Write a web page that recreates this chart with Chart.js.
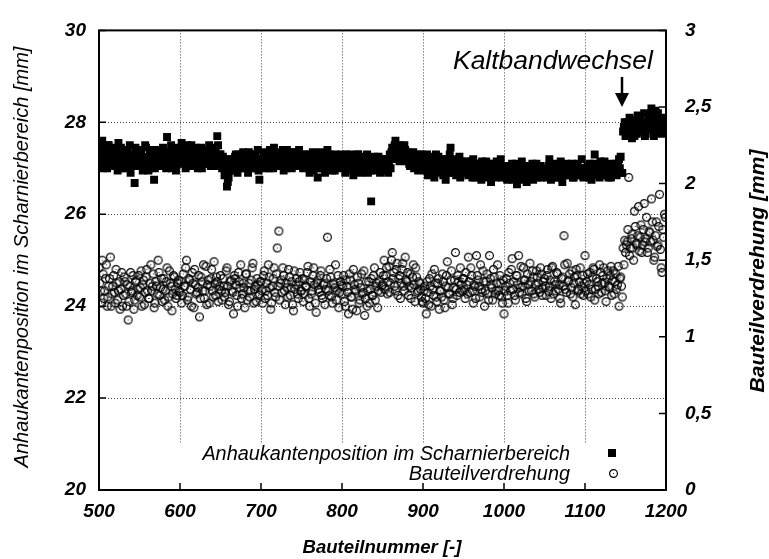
<!DOCTYPE html>
<html>
<head>
<meta charset="utf-8">
<script src="https://cdn.jsdelivr.net/npm/chart.js@4.4.0/dist/chart.umd.min.js"></script>
<style>
  html, body { margin: 0; padding: 0; background: #fff; }
  #wrap { width: 769px; height: 559px; position: relative; }
</style>
</head>
<body>
<div id="wrap"><canvas id="chart"></canvas></div>
<script>
// even part numbers start at 500, odd ones at 501, step 2
const START_EVEN = 500;
const START_ODD = 501;
const PART_STEP = 2;

// Anhaukantenposition im Scharnierbereich [mm] (left axis), even parts
const scharnierPos = [
  27.3, 27.1, 27.6, 27.2, 27.4, 27.0, 27.5, 27.3, 27.2, 27.45, 27.1, 27.35, 27.55, 27.2, 27.0, 27.3, 27.4, 27.15, 27.25, 27.5, 27.05, 27.3, 26.68, 27.2, 27.4,
  27.1, 27.3, 26.95, 27.25, 27.45, 27.15, 27.0, 27.35, 27.2, 26.75, 27.3, 27.1, 27.4, 27.2, 27.05, 27.3, 27.25, 27.68, 27.15, 27.35, 27.0, 27.2, 27.45, 27.1, 27.3,
  27.25, 27.55, 27.1, 27.4, 27.2, 27.3, 27.05, 27.5, 27.25, 27.15, 27.35, 27.0, 27.3, 27.45, 27.2, 27.1, 27.35, 27.25, 27.5, 27.05, 27.3, 27.2, 27.4, 27.7, 27.15,
  27.3, 27.0, 27.2, 26.9, 26.6, 26.8, 27.1, 27.2, 26.95, 27.25, 27.1, 27.3, 27.0, 27.15, 27.35, 27.05, 27.2, 26.9, 27.25, 27.1, 27.3, 27.0, 27.2, 27.4, 26.75,
  27.2, 27.05, 27.35, 27.15, 27.25, 27.0, 27.3, 27.1, 27.45, 27.2, 27.05, 27.3, 27.15, 27.25, 26.95, 27.2, 27.4, 27.1, 27.3, 27.0, 27.2, 27.35, 27.1, 27.25, 27.05,
  27.2, 27.0, 27.3, 27.1, 27.25, 26.9, 27.15, 27.35, 27.05, 27.2, 26.8, 27.1, 27.3, 27.0, 27.2, 27.1, 27.4, 27.05, 27.25, 26.95, 27.15, 27.3, 27.0, 27.2, 27.1,
  27.05, 27.25, 26.9, 27.15, 27.0, 27.3, 27.1, 26.85, 27.2, 27.05, 27.3, 26.95, 27.15, 27.0, 27.25, 27.1, 26.9, 27.2, 26.28, 27.05, 27.25, 26.95, 27.1, 27.0, 27.2,
  27.1, 26.95, 27.2, 27.05, 27.15, 27.0, 27.45, 27.3, 27.6, 27.4, 27.25, 27.5, 27.35, 27.2, 27.4, 27.15, 27.3, 27.05, 27.25, 27.35, 27.1, 27.2, 26.95, 27.15, 27.3,
  27.0, 27.2, 27.1, 26.85, 27.25, 27.05, 27.15, 26.8, 27.3, 27.0, 27.1, 26.9, 27.2, 27.05, 26.75, 27.15, 27.0, 27.45, 27.1, 26.9, 27.2, 26.95, 27.05, 26.8, 27.15,
  27.0, 26.9, 27.15, 26.85, 27.05, 26.95, 27.2, 26.8, 27.0, 27.1, 26.9, 26.75, 27.05, 26.95, 27.15, 26.85, 27.0, 26.7, 26.95, 27.1, 26.8, 27.0, 26.9, 27.2, 26.85,
  26.9, 27.05, 26.75, 26.95, 26.85, 27.1, 26.8, 26.95, 26.65, 27.0, 26.9, 27.15, 26.8, 26.95, 26.7, 27.05, 26.85, 27.0, 26.75, 26.9, 27.1, 26.85, 27.0, 26.8, 26.95,
  26.85, 27.0, 26.9, 27.2, 26.75, 26.95, 27.05, 26.8, 27.0, 26.9, 27.15, 26.7, 26.95, 27.05, 26.85, 27.0, 26.9, 27.1, 26.8, 26.95, 27.05, 26.85, 26.95, 27.2, 26.8,
  27.0, 26.85, 26.95, 27.1, 26.75, 26.95, 27.3, 26.9, 27.0, 26.8, 27.05, 26.9, 27.15, 26.85, 27.0, 26.95, 26.8, 27.05, 26.95, 27.1, 26.9, 27.2, 27.25, 26.9, 27.9,
  27.7, 28.0, 27.8, 27.95, 27.65, 27.85, 28.05, 27.75, 27.9, 28.1, 27.8, 27.95, 27.7, 28.0, 28.15, 27.85, 28.3, 27.9, 28.05, 27.8, 28.2, 27.95, 27.75, 28.0, 27.85
];

// same, odd parts
const scharnierPosOdd = [
  27.2, 27.45, 27.0, 27.35, 27.15, 27.5, 27.25, 27.05, 27.4, 27.2, 27.3, 26.95, 27.25, 27.45, 27.1, 27.2, 27.0, 27.35, 27.3, 26.9, 27.25, 27.15, 27.45, 27.05, 27.2,
  27.35, 27.05, 27.2, 27.5, 27.1, 26.95, 27.3, 27.15, 27.4, 27.0, 27.25, 27.35, 27.05, 27.2, 27.45, 27.15, 27.0, 27.3, 27.2, 27.5, 27.1, 27.3, 26.95, 27.25, 27.15,
  27.4, 27.15, 27.3, 27.0, 27.5, 27.2, 27.35, 27.1, 27.25, 27.45, 27.05, 27.3, 27.2, 27.0, 27.4, 27.3, 27.1, 27.2, 27.35, 27.15, 27.45, 27.05, 27.25, 27.5, 27.3,
  27.1, 27.25, 26.85, 27.05, 26.7, 26.95, 27.2, 27.0, 27.15, 27.3, 26.9, 27.2, 27.1, 27.3, 27.0, 27.25, 27.1, 27.35, 27.0, 27.2, 27.05, 27.3, 27.1, 26.95, 27.2,
  27.1, 27.3, 27.0, 27.25, 27.1, 27.4, 27.2, 27.0, 27.3, 27.15, 27.35, 27.05, 27.2, 27.4, 27.1, 27.0, 27.25, 27.3, 27.15, 27.35, 27.05, 27.2, 27.1, 27.4, 27.2,
  27.1, 27.3, 27.05, 27.2, 27.0, 27.3, 27.1, 26.95, 27.25, 27.15, 27.0, 27.35, 27.1, 27.25, 26.9, 27.2, 27.05, 27.3, 27.1, 27.2, 26.95, 27.15, 27.25, 27.05, 27.3,
  27.15, 27.0, 27.3, 27.05, 27.2, 26.95, 27.25, 27.1, 27.0, 27.3, 27.15, 26.9, 27.2, 27.1, 27.05, 27.3, 27.15, 26.95, 27.1, 27.2, 27.0, 27.15, 27.25, 26.9, 27.05,
  27.0, 27.2, 27.1, 26.9, 27.3, 27.35, 27.2, 27.5, 27.3, 27.45, 27.15, 27.35, 27.25, 27.5, 27.2, 27.35, 27.1, 27.3, 27.2, 27.0, 27.25, 27.1, 27.3, 27.05, 27.2,
  27.15, 26.95, 27.3, 27.05, 26.9, 27.2, 27.0, 27.1, 26.95, 27.25, 27.0, 27.15, 26.85, 27.1, 27.2, 26.9, 27.3, 27.05, 27.15, 27.0, 26.85, 27.1, 27.25, 27.0, 26.9,
  27.1, 26.95, 27.05, 26.9, 27.15, 26.8, 27.0, 27.1, 26.9, 27.05, 26.85, 27.15, 26.9, 27.0, 26.8, 27.1, 26.95, 27.05, 26.85, 27.0, 27.15, 26.9, 27.05, 26.8, 27.0,
  26.95, 26.8, 27.0, 26.9, 27.05, 26.75, 26.95, 27.1, 26.85, 26.95, 26.75, 27.0, 26.9, 27.05, 26.85, 26.95, 26.8, 27.1, 26.9, 27.0, 26.8, 26.95, 27.05, 26.9, 26.85,
  26.95, 26.8, 27.05, 26.9, 27.0, 26.85, 27.1, 26.9, 26.8, 27.05, 26.95, 27.0, 26.85, 27.1, 26.9, 26.95, 27.05, 26.8, 27.0, 26.9, 27.1, 26.95, 26.85, 27.0, 26.95,
  26.9, 27.05, 26.8, 27.0, 26.9, 27.1, 26.85, 27.0, 26.95, 27.15, 26.85, 27.0, 26.9, 27.05, 26.8, 27.1, 26.95, 26.9, 27.05, 26.85, 27.1, 27.0, 26.9, 27.8, 28.0,
  27.9, 27.75, 28.1, 27.85, 28.0, 27.7, 27.95, 28.15, 27.8, 28.0, 27.9, 28.2, 27.75, 27.95, 28.05, 27.85, 28.1, 27.7, 28.25, 27.9, 28.0, 27.8, 28.1, 27.95, 27.9
];

// Bauteilverdrehung [mm] (right axis), even parts
const verdrehung = [
  1.45, 1.3, 1.5, 1.25, 1.38, 1.2, 1.33, 1.52, 1.28, 1.4, 1.22, 1.35, 1.3, 1.18, 1.42, 1.27, 1.36, 1.2, 1.11, 1.33, 1.29, 1.4, 1.24, 1.37, 1.31,
  1.26, 1.43, 1.34, 1.21, 1.39, 1.3, 1.25, 1.47, 1.33, 1.19, 1.36, 1.28, 1.42, 1.32, 1.23, 1.38, 1.3, 1.45, 1.26, 1.35, 1.17, 1.4, 1.31, 1.27, 1.37,
  1.29, 1.22, 1.41, 1.33, 1.5, 1.26, 1.37, 1.2, 1.35, 1.44, 1.28, 1.32, 1.13, 1.39, 1.3, 1.25, 1.46, 1.34, 1.22, 1.38, 1.3, 1.49, 1.27, 1.36, 1.31,
  1.4, 1.24, 1.33, 1.29, 1.45, 1.21, 1.36, 1.3, 1.15, 1.38, 1.27, 1.42, 1.32, 1.25, 1.35, 1.19, 1.41, 1.3, 1.26, 1.37, 1.48, 1.31, 1.23, 1.34, 1.28,
  1.36, 1.22, 1.43, 1.3, 1.27, 1.39, 1.18, 1.33, 1.45, 1.26, 1.58, 1.69, 1.35, 1.29, 1.4, 1.21, 1.32, 1.44, 1.27, 1.36, 1.17, 1.31, 1.38, 1.25, 1.42,
  1.3, 1.23, 1.37, 1.33, 1.46, 1.2, 1.28, 1.4, 1.34, 1.16, 1.37, 1.29, 1.43, 1.25, 1.35, 1.31, 1.65, 1.27, 1.39, 1.22, 1.34, 1.47, 1.3, 1.19, 1.36,
  1.28, 1.4, 1.2, 1.33, 1.15, 1.37, 1.26, 1.44, 1.31, 1.17, 1.35, 1.24, 1.41, 1.29, 1.14, 1.36, 1.3, 1.22, 1.38, 1.27, 1.45, 1.33, 1.19, 1.36, 1.29,
  1.34, 1.5, 1.4, 1.28, 1.46, 1.35, 1.55, 1.42, 1.3, 1.48, 1.38, 1.25, 1.44, 1.33, 1.52, 1.36, 1.27, 1.41, 1.32, 1.47, 1.23, 1.39, 1.3, 1.35, 1.26,
  1.22, 1.33, 1.15, 1.29, 1.38, 1.2, 1.31, 1.44, 1.26, 1.35, 1.18, 1.3, 1.41, 1.24, 1.33, 1.49, 1.28, 1.37, 1.21, 1.32, 1.55, 1.27, 1.36, 1.45, 1.3,
  1.38, 1.25, 1.34, 1.52, 1.29, 1.4, 1.22, 1.33, 1.53, 1.37, 1.26, 1.31, 1.43, 1.2, 1.36, 1.28, 1.53, 1.34, 1.24, 1.39, 1.3, 1.47, 1.27, 1.35, 1.22,
  1.15, 1.33, 1.27, 1.42, 1.3, 1.51, 1.36, 1.24, 1.4, 1.53, 1.32, 1.28, 1.45, 1.37, 1.23, 1.34, 1.48, 1.3, 1.39, 1.26, 1.43, 1.35, 1.29, 1.41, 1.32,
  1.38, 1.27, 1.44, 1.33, 1.25, 1.46, 1.36, 1.3, 1.41, 1.34, 1.22, 1.39, 1.66, 1.31, 1.48, 1.37, 1.28, 1.43, 1.35, 1.21, 1.4, 1.3, 1.45, 1.33, 1.27,
  1.53, 1.36, 1.28, 1.42, 1.31, 1.45, 1.24, 1.38, 1.33, 1.47, 1.29, 1.4, 1.35, 1.23, 1.43, 1.32, 1.46, 1.37, 1.28, 1.41, 1.34, 1.2, 1.39, 1.26, 1.47,
  1.55, 1.62, 2.04, 1.58, 1.67, 1.5, 1.72, 1.6, 1.85, 1.65, 1.55, 1.7, 1.62, 1.78, 1.58, 1.68, 1.9, 1.63, 1.52, 1.75, 1.6, 1.93, 1.45, 1.7, 1.8
];

// same, odd parts
const verdrehungOdd = [
  1.35, 1.22, 1.41, 1.3, 1.47, 1.26, 1.38, 1.2, 1.33, 1.29, 1.44, 1.24, 1.36, 1.31, 1.2, 1.39, 1.28, 1.34, 1.23, 1.42, 1.3, 1.18, 1.36, 1.27, 1.4,
  1.32, 1.2, 1.37, 1.29, 1.44, 1.25, 1.35, 1.3, 1.41, 1.22, 1.33, 1.5, 1.27, 1.38, 1.31, 1.24, 1.36, 1.2, 1.43, 1.33, 1.28, 1.39, 1.25, 1.35, 1.3,
  1.36, 1.27, 1.33, 1.45, 1.24, 1.38, 1.31, 1.42, 1.19, 1.34, 1.29, 1.4, 1.25, 1.36, 1.47, 1.3, 1.21, 1.37, 1.33, 1.44, 1.26, 1.35, 1.39, 1.23, 1.33,
  1.3, 1.38, 1.26, 1.43, 1.33, 1.23, 1.37, 1.29, 1.4, 1.34, 1.2, 1.36, 1.47, 1.28, 1.32, 1.41, 1.24, 1.35, 1.3, 1.45, 1.22, 1.33, 1.38, 1.27, 1.36,
  1.3, 1.4, 1.25, 1.35, 1.47, 1.32, 1.22, 1.38, 1.29, 1.41, 1.33, 1.24, 1.37, 1.45, 1.3, 1.35, 1.26, 1.39, 1.32, 1.21, 1.43, 1.34, 1.28, 1.36, 1.3,
  1.38, 1.28, 1.33, 1.42, 1.25, 1.36, 1.3, 1.45, 1.22, 1.35, 1.31, 1.4, 1.27, 1.34, 1.21, 1.38, 1.3, 1.44, 1.26, 1.35, 1.32, 1.24, 1.4, 1.29, 1.34,
  1.33, 1.23, 1.37, 1.29, 1.41, 1.26, 1.18, 1.34, 1.3, 1.39, 1.22, 1.32, 1.28, 1.43, 1.25, 1.2, 1.36, 1.31, 1.27, 1.4, 1.24, 1.35, 1.3, 1.42, 1.33,
  1.4, 1.31, 1.45, 1.36, 1.29, 1.5, 1.38, 1.33, 1.44, 1.27, 1.4, 1.35, 1.48, 1.3, 1.37, 1.42, 1.33, 1.25, 1.39, 1.34, 1.45, 1.29, 1.36, 1.31, 1.23,
  1.3, 1.25, 1.36, 1.21, 1.33, 1.41, 1.27, 1.35, 1.23, 1.38, 1.3, 1.26, 1.36, 1.19, 1.4, 1.32, 1.28, 1.43, 1.25, 1.37, 1.31, 1.4, 1.29, 1.34, 1.38,
  1.31, 1.42, 1.28, 1.36, 1.45, 1.3, 1.34, 1.25, 1.4, 1.33, 1.47, 1.29, 1.36, 1.3, 1.41, 1.24, 1.38, 1.32, 1.44, 1.28, 1.35, 1.3, 1.4, 1.26, 1.37,
  1.3, 1.38, 1.22, 1.35, 1.44, 1.31, 1.27, 1.4, 1.34, 1.29, 1.46, 1.33, 1.37, 1.25, 1.41, 1.3, 1.36, 1.43, 1.28, 1.34, 1.39, 1.31, 1.45, 1.27, 1.36,
  1.33, 1.4, 1.3, 1.37, 1.45, 1.28, 1.34, 1.42, 1.31, 1.25, 1.38, 1.33, 1.47, 1.29, 1.36, 1.41, 1.32, 1.26, 1.39, 1.44, 1.31, 1.36, 1.28, 1.4, 1.35,
  1.3, 1.41, 1.34, 1.26, 1.39, 1.44, 1.31, 1.36, 1.28, 1.42, 1.35, 1.45, 1.3, 1.38, 1.33, 1.4, 1.27, 1.43, 1.36, 1.31, 1.46, 1.38, 1.33, 1.58, 1.63,
  1.6, 1.7, 1.53, 1.64, 1.58, 1.82, 1.61, 1.66, 1.56, 1.73, 1.6, 1.87, 1.64, 1.55, 1.69, 1.62, 1.75, 1.5, 1.66, 1.59, 1.72, 1.57, 1.42, 1.65, 1.78
];

const FONT = '"Liberation Sans", Arial, sans-serif';

function toPoints(even, odd) {
  const pts = [];
  even.forEach((v, i) => pts.push({ x: START_EVEN + i * PART_STEP, y: v }));
  odd.forEach((v, i) => pts.push({ x: START_ODD + i * PART_STEP, y: v }));
  return pts;
}

// open circle with a dot in the middle, like the gnuplot marker
function makeCircleMarker() {
  const c = document.createElement('canvas');
  c.width = 11; c.height = 11;
  const g = c.getContext('2d');
  g.strokeStyle = '#000';
  g.lineWidth = 1.2;
  g.beginPath();
  g.arc(5.5, 5.5, 3.9, 0, Math.PI * 2);
  g.stroke();
  g.fillStyle = '#333';
  g.fillRect(5, 5, 1, 1);
  return c;
}
const circleMarker = makeCircleMarker();

function fitFont(ctx, text, style, width) {
  ctx.font = style + ' 100px ' + FONT;
  const size = 100 * width / ctx.measureText(text).width;
  return style + ' ' + size.toFixed(2) + 'px ' + FONT;
}

const decor = {
  id: 'decor',
  beforeDatasetsDraw(chart) {
    // white key box hides the lower part of the vertical grid
    const { ctx, chartArea: a } = chart;
    ctx.save();
    ctx.fillStyle = '#fff';
    ctx.fillRect(a.left, 443, a.right - a.left, a.bottom - 443);
    ctx.restore();
  },
  afterDraw(chart) {
    const { ctx, chartArea: a, scales } = chart;
    ctx.save();
    ctx.strokeStyle = '#000';
    ctx.fillStyle = '#000';

    // inward tick marks
    ctx.lineWidth = 1.5;
    ctx.beginPath();
    scales.x.ticks.forEach(t => {
      const px = scales.x.getPixelForValue(t.value);
      ctx.moveTo(px, a.bottom); ctx.lineTo(px, a.bottom - 7);
    });
    scales.y.ticks.forEach(t => {
      const py = scales.y.getPixelForValue(t.value);
      ctx.moveTo(a.left, py); ctx.lineTo(a.left + 7, py);
    });
    scales.y2.ticks.forEach(t => {
      const py = scales.y2.getPixelForValue(t.value);
      ctx.moveTo(a.right, py); ctx.lineTo(a.right - 7, py);
    });
    ctx.stroke();

    // frame
    ctx.lineWidth = 2;
    ctx.strokeRect(a.left, a.top, a.right - a.left, a.bottom - a.top);

    // axis titles
    ctx.textBaseline = 'middle';
    ctx.textAlign = 'center';
    ctx.save();
    ctx.translate(22, 257);
    ctx.rotate(-Math.PI / 2);
    ctx.font = fitFont(ctx, 'Anhaukantenposition im Scharnierbereich [mm]', 'italic', 421);
    ctx.fillText('Anhaukantenposition im Scharnierbereich [mm]', 0, 0);
    ctx.restore();

    ctx.save();
    ctx.translate(758, 271);
    ctx.rotate(-Math.PI / 2);
    ctx.font = fitFont(ctx, 'Bauteilverdrehung [mm]', 'bold italic', 243);
    ctx.fillText('Bauteilverdrehung [mm]', 0, 0);
    ctx.restore();

    ctx.textBaseline = 'alphabetic';
    ctx.font = fitFont(ctx, 'Bauteilnummer [-]', 'bold italic', 159);
    ctx.fillText('Bauteilnummer [-]', 382, 553);

    // key
    ctx.textAlign = 'right';
    ctx.font = fitFont(ctx, 'Anhaukantenposition im Scharnierbereich', 'italic', 368);
    ctx.fillText('Anhaukantenposition im Scharnierbereich', 570, 460);
    ctx.fillText('Bauteilverdrehung', 570, 480);
    ctx.fillRect(608, 449, 8, 8);
    ctx.drawImage(circleMarker, 608, 468);

    // annotation
    ctx.textAlign = 'left';
    ctx.font = fitFont(ctx, 'Kaltbandwechsel', 'italic', 200);
    ctx.fillText('Kaltbandwechsel', 453, 69);
    ctx.lineWidth = 2.5;
    ctx.beginPath();
    ctx.moveTo(622, 77); ctx.lineTo(622, 95);
    ctx.stroke();
    ctx.beginPath();
    ctx.moveTo(615, 93); ctx.lineTo(629, 93); ctx.lineTo(622, 107);
    ctx.closePath();
    ctx.fill();
    ctx.restore();
  }
};

const tickFont = { family: FONT, size: 19, style: 'italic', weight: 'bold' };

new Chart(document.getElementById('chart'), {
  type: 'scatter',
  data: {
    datasets: [
      {
        label: 'Anhaukantenposition im Scharnierbereich',
        data: toPoints(scharnierPos, scharnierPosOdd),
        yAxisID: 'y',
        pointStyle: 'rect',
        pointRadius: 5.6,
        pointBackgroundColor: '#000',
        pointBorderWidth: 0
      },
      {
        label: 'Bauteilverdrehung',
        data: toPoints(verdrehung, verdrehungOdd),
        yAxisID: 'y2',
        pointStyle: circleMarker,
        pointRadius: 5
      }
    ]
  },
  options: {
    responsive: true,
    maintainAspectRatio: false,
    animation: false,
    devicePixelRatio: 1,
    layout: { padding: { top: 24, left: 0, right: 0, bottom: 0 } },
    plugins: { legend: { display: false }, tooltip: { enabled: false } },
    scales: {
      x: {
        type: 'linear',
        min: 500, max: 1200,
        afterFit(s) { s.height = 69; },
        ticks: { stepSize: 100, color: '#000', font: tickFont, padding: 10, callback: v => String(v) },
        grid: { color: '#444', lineWidth: 1, drawTicks: false },
        border: { display: false, dash: [1, 2] }
      },
      y: {
        position: 'left',
        min: 20, max: 30,
        afterFit(s) { s.width = 99; },
        ticks: { stepSize: 2, color: '#000', font: tickFont, padding: 13 },
        grid: { color: '#444', lineWidth: 1, drawTicks: false },
        border: { display: false, dash: [1, 2] }
      },
      y2: {
        position: 'right',
        min: 0, max: 3,
        afterFit(s) { s.width = 103; },
        ticks: {
          stepSize: 0.5, color: '#000', font: tickFont, padding: 19,
          callback: v => String(v).replace('.', ',')
        },
        grid: { drawOnChartArea: false, drawTicks: false },
        border: { display: false }
      }
    }
  },
  plugins: [decor]
});
</script>
</body>
</html>
